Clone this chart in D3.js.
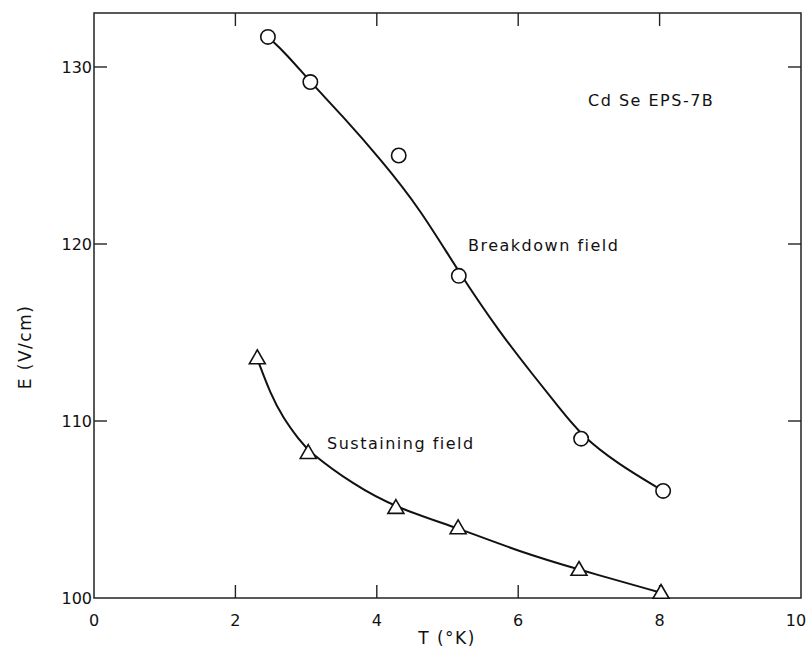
<!DOCTYPE html>
<html lang="en">
<head>
<meta charset="UTF-8">
<title>CdSe breakdown and sustaining field</title>
<style>
    body { margin: 0; background: #fff; }
    text { font-family: "DejaVu Sans", sans-serif; fill: #111; }
    .tick-label { font-size: 16px; }
    .axis-title { font-size: 17px; letter-spacing: 1.5px; }
    .note { font-size: 16px; letter-spacing: 1.5px; }
</style>
</head>
<body>
<svg id="chart" width="809" height="661"></svg>
<script src="https://d3js.org/d3.v7.min.js"></script>
<script>
// measured points (T in K, E in V/cm)
const breakdownT = [2.46, 3.06, 4.31, 5.16, 6.89, 8.05];
const breakdownE = [131.7, 129.15, 125.0, 118.2, 109.0, 106.05];
const sustainT = [2.31, 3.03, 4.27, 5.15, 6.86, 8.02];
const sustainE = [113.55, 108.2, 105.1, 103.95, 101.6, 100.3];

// hand-drawn curves
const breakdownCurveT = [2.46, 2.73, 3.06, 3.5, 4.05, 4.61, 5.16, 5.74, 6.21, 6.59, 6.89, 7.4, 8.05];
const breakdownCurveE = [131.7, 130.7, 129.15, 127.3, 124.8, 122.0, 118.4, 115.0, 112.6, 110.7, 109.2, 107.6, 106.05];
const sustainCurveT = [2.33, 2.49, 2.67, 2.91, 3.03, 3.67, 4.27, 5.15, 6.03, 6.86, 8.02];
const sustainCurveE = [113.3, 111.6, 110.2, 108.9, 108.3, 106.4, 105.1, 103.95, 102.6, 101.6, 100.3];

const xTicks = [0, 2, 4, 6, 8, 10];
const yTicks = [100, 110, 120, 130];

const svg = d3.select("#chart");
const plotLeft = 94, plotRight = 801, plotTop = 13, plotBottom = 598;

const x = d3.scaleLinear().domain([0, 10]).range([plotLeft, plotRight]);
const y = d3.scaleLinear().domain([100, 133.05]).range([plotBottom, plotTop]);

// frame
svg.append("rect")
    .attr("x", plotLeft).attr("y", plotTop)
    .attr("width", plotRight - plotLeft).attr("height", plotBottom - plotTop)
    .attr("fill", "none").attr("stroke", "#222").attr("stroke-width", 1.5);

// inward ticks on all four sides
const innerX = xTicks.filter(d => d > 0 && d < 10);
const innerY = yTicks.filter(d => d > 100);
const tickLen = 13;
const g = svg.append("g").attr("stroke", "#222").attr("stroke-width", 1.4);
innerX.forEach(d => {
    g.append("line").attr("x1", x(d)).attr("x2", x(d)).attr("y1", plotBottom).attr("y2", plotBottom - tickLen);
    g.append("line").attr("x1", x(d)).attr("x2", x(d)).attr("y1", plotTop).attr("y2", plotTop + tickLen);
});
innerY.forEach(d => {
    g.append("line").attr("x1", plotLeft).attr("x2", plotLeft + tickLen).attr("y1", y(d)).attr("y2", y(d));
    g.append("line").attr("x1", plotRight).attr("x2", plotRight - tickLen).attr("y1", y(d)).attr("y2", y(d));
});

// tick labels (last one pulled in so it stays on the page)
svg.selectAll(".xl").data(xTicks).enter().append("text")
    .attr("class", "tick-label")
    .attr("x", d => Math.min(x(d), 796)).attr("y", plotBottom + 28)
    .attr("text-anchor", "middle")
    .text(d => d);
svg.selectAll(".yl").data(yTicks).enter().append("text")
    .attr("class", "tick-label")
    .attr("x", plotLeft - 2).attr("y", d => y(d) + 6)
    .attr("text-anchor", "end")
    .text(d => d);

// axis titles
svg.append("text").attr("class", "axis-title")
    .attr("x", 447).attr("y", 644).attr("text-anchor", "middle")
    .text("T (\u00b0K)");
svg.append("text").attr("class", "axis-title")
    .attr("transform", "translate(31,347) rotate(-90)")
    .attr("text-anchor", "middle")
    .text("E (V/cm)");

// smooth curves
const line = d3.line()
    .x(d => x(d[0])).y(d => y(d[1]))
    .curve(d3.curveBasis);
svg.append("path")
    .datum(d3.zip(breakdownCurveT, breakdownCurveE))
    .attr("d", line).attr("fill", "none").attr("stroke", "#111").attr("stroke-width", 2);
svg.append("path")
    .datum(d3.zip(sustainCurveT, sustainCurveE))
    .attr("d", line).attr("fill", "none").attr("stroke", "#111").attr("stroke-width", 2);

// markers
svg.selectAll(".circ").data(d3.zip(breakdownT, breakdownE)).enter().append("circle")
    .attr("cx", d => x(d[0])).attr("cy", d => y(d[1])).attr("r", 7.2)
    .attr("fill", "#fff").attr("stroke", "#111").attr("stroke-width", 1.6);
const tri = d3.symbol().type(d3.symbolTriangle).size(110);
svg.selectAll(".tri").data(d3.zip(sustainT, sustainE)).enter().append("path")
    .attr("d", tri)
    .attr("transform", d => `translate(${x(d[0])},${y(d[1]) + 1})`)
    .attr("fill", "#fff").attr("stroke", "#111").attr("stroke-width", 1.6);

// annotations
svg.append("text").attr("class", "note").attr("x", 588).attr("y", 106).text("Cd Se  EPS-7B");
svg.append("text").attr("class", "note").attr("x", 468).attr("y", 251).text("Breakdown  field");
svg.append("text").attr("class", "note").attr("x", 327).attr("y", 449).text("Sustaining  field");
</script>
</body>
</html>
